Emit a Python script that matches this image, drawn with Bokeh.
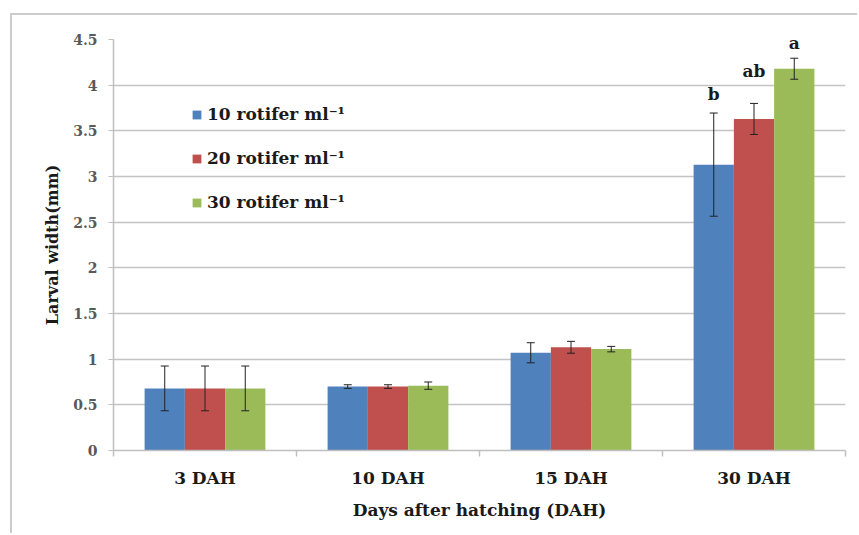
from bokeh.plotting import figure
from bokeh.models import (ColumnDataSource, Whisker, TeeHead, FixedTicker, Legend, LegendItem, Range1d)
from bokeh.core.properties import value
from bokeh.embed import file_html
from bokeh.resources import INLINE

# ---- data ----
categories = ["3 DAH", "10 DAH", "15 DAH", "30 DAH"]
series_names = ["10 rotifer ml\u207b\u00b9", "20 rotifer ml\u207b\u00b9", "30 rotifer ml\u207b\u00b9"]
width_10 = [0.68, 0.70, 1.07, 3.13]
width_20 = [0.68, 0.70, 1.13, 3.63]
width_30 = [0.68, 0.71, 1.11, 4.18]
err_10 = [0.245, 0.02, 0.11, 0.565]
err_20 = [0.245, 0.02, 0.065, 0.17]
err_30 = [0.245, 0.04, 0.03, 0.115]
letters_30dah = ["b", "ab", "a"]
y_ticks = [0, 0.5, 1, 1.5, 2, 2.5, 3, 3.5, 4, 4.5]

colors = ["#4f81bd", "#c0504d", "#9bbb59"]
offsets = [-0.22, 0.0, 0.22]
bar_w = 0.22

SERIF = "DejaVu Serif"

p = figure(width=847, height=520, output_backend="svg", toolbar_location=None,
           x_range=Range1d(0, len(categories)), y_range=Range1d(0, 4.5),
           min_border_left=101, min_border_right=14, min_border_top=24, min_border_bottom=85,
           background_fill_color="white", border_fill_color="white", outline_line_color=None)
p.margin = (13, 0, 0, 10)
p.styles = {"border-top": "2px solid #cccccc", "border-left": "2px solid #cccccc"}

renderers = []
for vals, errs, col, off in zip([width_10, width_20, width_30], [err_10, err_20, err_30], colors, offsets):
    xs = [i + 0.5 + off for i in range(len(categories))]
    src = ColumnDataSource(dict(x=xs, top=vals,
                                upper=[v + e for v, e in zip(vals, errs)],
                                lower=[v - e for v, e in zip(vals, errs)]))
    r = p.vbar(x="x", top="top", width=bar_w, bottom=0, source=src,
               fill_color=col, line_color=None)
    renderers.append(r)
    w = Whisker(base="x", upper="upper", lower="lower", source=src, level="overlay",
                line_color="#222222", line_width=1,
                upper_head=TeeHead(size=8, line_color="#222222", line_width=1),
                lower_head=TeeHead(size=8, line_color="#222222", line_width=1))
    p.add_layout(w)

# significance letters on 30 DAH
last = len(categories) - 1
lx = [last + 0.5 + off for off in offsets]
ly = [width_10[last] + err_10[last], width_20[last] + err_20[last], width_30[last] + err_30[last]]
lsrc = ColumnDataSource(dict(x=lx, y=ly, t=letters_30dah, yo=[-9, -22, -5]))
p.text(x="x", y="y", text="t", source=lsrc, y_offset="yo", text_align="center",
       text_baseline="bottom", text_font=value(SERIF), text_font_style="bold",
       text_font_size="17px", text_color="#1a1a1a")

# axes
p.xgrid.grid_line_color = None
p.ygrid.grid_line_color = "#c4c4c4"
p.ygrid.grid_line_width = 1.5
p.ygrid.ticker = FixedTicker(ticks=y_ticks)

p.yaxis.ticker = FixedTicker(ticks=y_ticks)
p.yaxis.major_label_overrides = {t: ("%g" % t) for t in y_ticks}
p.yaxis.axis_line_color = "#bfbfbf"
p.yaxis.axis_line_width = 1.5
p.yaxis.major_tick_line_color = "#bfbfbf"
p.yaxis.major_tick_out = 5
p.yaxis.major_tick_in = 0
p.yaxis.minor_tick_line_color = None
p.yaxis.major_label_text_font = SERIF
p.yaxis.major_label_text_font_style = "bold"
p.yaxis.major_label_text_font_size = "14px"
p.yaxis.major_label_text_color = "#595959"
p.yaxis.major_label_standoff = 11
p.yaxis.axis_label = "Larval width(mm)"
p.yaxis.axis_label_text_font = SERIF
p.yaxis.axis_label_text_font_style = "bold"
p.yaxis.axis_label_text_font_size = "16px"
p.yaxis.axis_label_text_color = "#1a1a1a"
p.yaxis.axis_label_standoff = 8

centers = [i + 0.5 for i in range(len(categories))]
p.xaxis.ticker = FixedTicker(ticks=centers, minor_ticks=list(range(len(categories) + 1)))
p.xaxis.major_label_overrides = {c: lab for c, lab in zip(centers, categories)}
p.xaxis.axis_line_color = "#bfbfbf"
p.xaxis.axis_line_width = 1.5
p.xaxis.major_tick_line_color = None
p.xaxis.major_tick_out = 0
p.xaxis.major_tick_in = 0
p.xaxis.minor_tick_line_color = "#bfbfbf"
p.xaxis.minor_tick_line_width = 1.5
p.xaxis.minor_tick_out = 6
p.xaxis.minor_tick_in = 0
p.xaxis.major_label_text_font = SERIF
p.xaxis.major_label_text_font_style = "bold"
p.xaxis.major_label_text_font_size = "17px"
p.xaxis.major_label_text_color = "#1a1a1a"
p.xaxis.major_label_standoff = 11
p.xaxis.axis_label = "Days after hatching (DAH)"
p.xaxis.axis_label_text_font = SERIF
p.xaxis.axis_label_text_font_style = "bold"
p.xaxis.axis_label_text_font_size = "17px"
p.xaxis.axis_label_text_color = "#1a1a1a"
p.xaxis.axis_label_standoff = 9

legend = Legend(items=[LegendItem(label=n, renderers=[r]) for n, r in zip(series_names, renderers)],
                location=(78, 238), orientation="vertical",
                background_fill_alpha=0, border_line_color=None,
                padding=0, margin=0, spacing=24,
                glyph_width=11, glyph_height=11, label_height=20, label_standoff=5,
                label_text_font=SERIF, label_text_font_style="bold",
                label_text_font_size="17px", label_text_color="#1a1a1a")
p.add_layout(legend)

open("out.html", "w").write(file_html(p, INLINE))
